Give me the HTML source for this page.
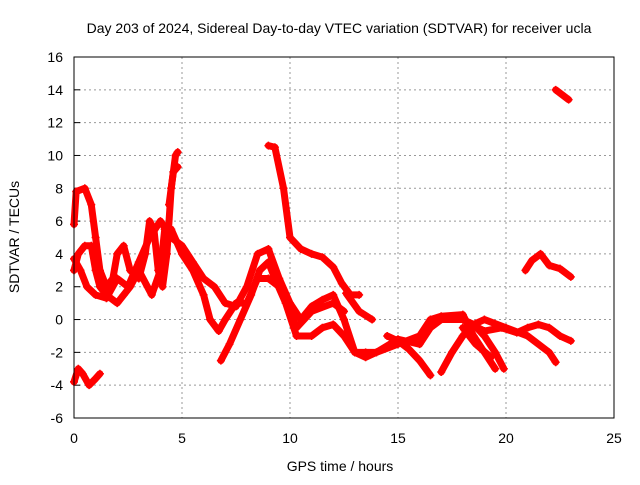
<!DOCTYPE html>
<html><head><meta charset="utf-8"><style>
body{margin:0;background:#fff}
svg text{font-family:"Liberation Sans",sans-serif;font-size:14px;fill:#000}
</style></head><body>
<svg id="chart" width="640" height="480" viewBox="0 0 640 480" xmlns="http://www.w3.org/2000/svg">
<text x="339" y="33" text-anchor="middle">Day 203 of 2024, Sidereal Day-to-day VTEC variation (SDTVAR) for receiver ucla</text>
<g id="grid"></g>
<g id="ticks"></g>
<g id="series"></g>
<rect x="74" y="57" width="540" height="361" fill="none" stroke="#000" stroke-width="1"/>
<text x="340" y="471" text-anchor="middle">GPS time / hours</text>
<text x="0" y="0" text-anchor="middle" transform="translate(19,237) rotate(-90)">SDTVAR / TECUs</text>
</svg>
<script>
const xTicks=[0,5,10,15,20,25];
const yTicks=[-6,-4,-2,0,2,4,6,8,10,12,14,16];
const traceA=[[0,5.8],[0.1,7.8],[0.5,8.0],[0.8,7],[1.0,5],[1.2,3],[1.5,2],[1.8,2.5],[2.0,4],[2.3,4.5],[2.6,3],[3.0,2.5],[3.3,4],[3.5,6],[3.7,5.5],[3.9,3],[4.1,2],[4.3,4],[4.5,8],[4.7,10],[4.8,10.2]];
const traceA2=[[4.4,7],[4.6,9],[4.8,9.3]];
const traceB=[[0,3],[0.2,4],[0.5,4.5],[0.8,4.5],[1.0,3],[1.2,2],[1.5,1.5],[2,1],[2.3,1.5],[2.6,2],[3.0,3],[3.4,2],[3.6,1.5],[4.0,3],[4.2,5.5],[4.5,5.5],[5,4],[5.5,3],[6,1.5],[6.3,0],[6.7,-0.7],[7,0],[7.5,1],[8,1],[8.5,2.5],[9,2.5],[9.5,2],[10,0.5],[10.3,-0.5],[11,0.5],[12,1],[12.5,0.5]];
const traceC=[[0,3.7],[0.3,3],[0.6,2],[1,1.5],[1.5,1.3],[2,2.5],[2.5,2],[3,3.5],[3.5,5],[4,6],[4.5,5],[5,4.5],[5.5,3.5],[6,2.5],[6.5,2],[7,1],[7.5,0.8],[8,2],[8.5,4],[9,4.3],[9.5,2.5],[10,1],[10.5,0],[11,0.8],[11.5,1.2],[12,1.5],[12.5,0],[13,-2],[13.5,-2],[14,-2],[15,-1.5],[16,-1],[16.5,0],[17,0.2],[18,0.3],[18.5,-1],[19,-2],[19.5,-3]];
const traceD=[[6.8,-2.5],[7.2,-1.5],[7.7,0],[8.2,1.5],[8.6,3],[9,3.5],[9.3,2.5],[9.8,1],[10.3,-1],[11,-1],[11.5,-0.5],[12,-0.3],[12.5,-1],[13,-2],[13.5,-2.3],[14,-2],[15,-1.2],[16,-1.5],[16.5,-0.5],[17,0],[18,0],[18.5,-0.3],[19,0],[20,-0.5],[21,-1],[22,-2],[22.3,-2.6]];
const traceE=[[9,10.6],[9.3,10.5],[9.7,8],[10,5],[10.5,4.3],[11,4],[11.5,3.8],[12,3.2],[12.4,2.2],[12.8,1.5],[13.2,1.5]];
const traceE2=[[12.6,1.6],[13.2,0.5],[13.8,0]];
const traceF=[[0,-3.8],[0.2,-3],[0.4,-3.3],[0.7,-4],[1.0,-3.6],[1.2,-3.3]];
const traceG=[[20.9,3],[21.2,3.6],[21.6,4],[22,3.3],[22.5,3.1],[23,2.6]];
const traceH=[[22.3,14],[22.9,13.4]];
const traceI=[[14.5,-1],[15,-1.3],[15.5,-1.8],[16,-2.5],[16.5,-3.4]];
const traceJ=[[17,-3.2],[17.5,-2],[18,-1],[18.5,-0.3],[19,-1],[19.5,-2],[19.9,-3]];
const traceK=[[18,0],[19,-0.7],[19.8,-0.5],[20.5,-0.8],[21,-0.5],[21.5,-0.3],[22,-0.5],[22.5,-1],[23,-1.3]];
const traceL=[[18,-0.5],[18.6,-1.5],[19.3,-2.3]];
const traces=[traceA,traceA2,traceB,traceC,traceD,traceE,traceE2,traceF,traceG,traceH,traceI,traceJ,traceK,traceL];

const NS="http://www.w3.org/2000/svg";
const X0=74,X1=614,Y0=418,Y1=57;
function xs(v){return X0+(v-0)/(25-0)*(X1-X0);}
function ys(v){return Y0-(v+6)/(22)*(Y0-Y1);}
function mk(tag,attrs,parent){const e=document.createElementNS(NS,tag);for(const k in attrs)e.setAttribute(k,attrs[k]);parent.appendChild(e);return e;}
const grid=document.getElementById('grid'),ticks=document.getElementById('ticks'),series=document.getElementById('series');
xTicks.forEach(t=>{const x=xs(t);
 if(t>0&&t<25){const g=mk('line',{x1:x,x2:x,y1:Y1,y2:Y0,stroke:'#999','stroke-dasharray':'2,3'},grid);
 
 }
 const tx=mk('text',{x:x,y:Y0+25,'text-anchor':'middle'},ticks);tx.textContent=t;
 
 
});
yTicks.forEach(t=>{const y=ys(t);
 if(t>-6&&t<16){const g=mk('line',{x1:X0,x2:X1,y1:y,y2:y,stroke:'#999','stroke-dasharray':'2,3'},grid);
 
 }
 const tk=mk('line',{x1:X0,x2:X0+6,y1:y,y2:y,stroke:'#000'},ticks);
 
 
 const tx=mk('text',{x:X0-11,y:y+5,'text-anchor':'end'},ticks);tx.textContent=t;
 
 
});
traces.forEach((tr,i)=>{
 const p=mk('polyline',{points:tr.map(d=>xs(d[0])+','+ys(d[1])).join(' '),fill:'none',stroke:'#f00','stroke-width':7,'stroke-linejoin':'round','stroke-linecap':'round'},series);
 
 
 tr.forEach(d=>{const x=xs(d[0]),y=ys(d[1]);
  const m=mk('path',{d:`M${x-4},${y}h8M${x},${y-4}v8`,stroke:'#f00','stroke-width':1.5},series);
  
  
 });
});
</script>
</body></html>
